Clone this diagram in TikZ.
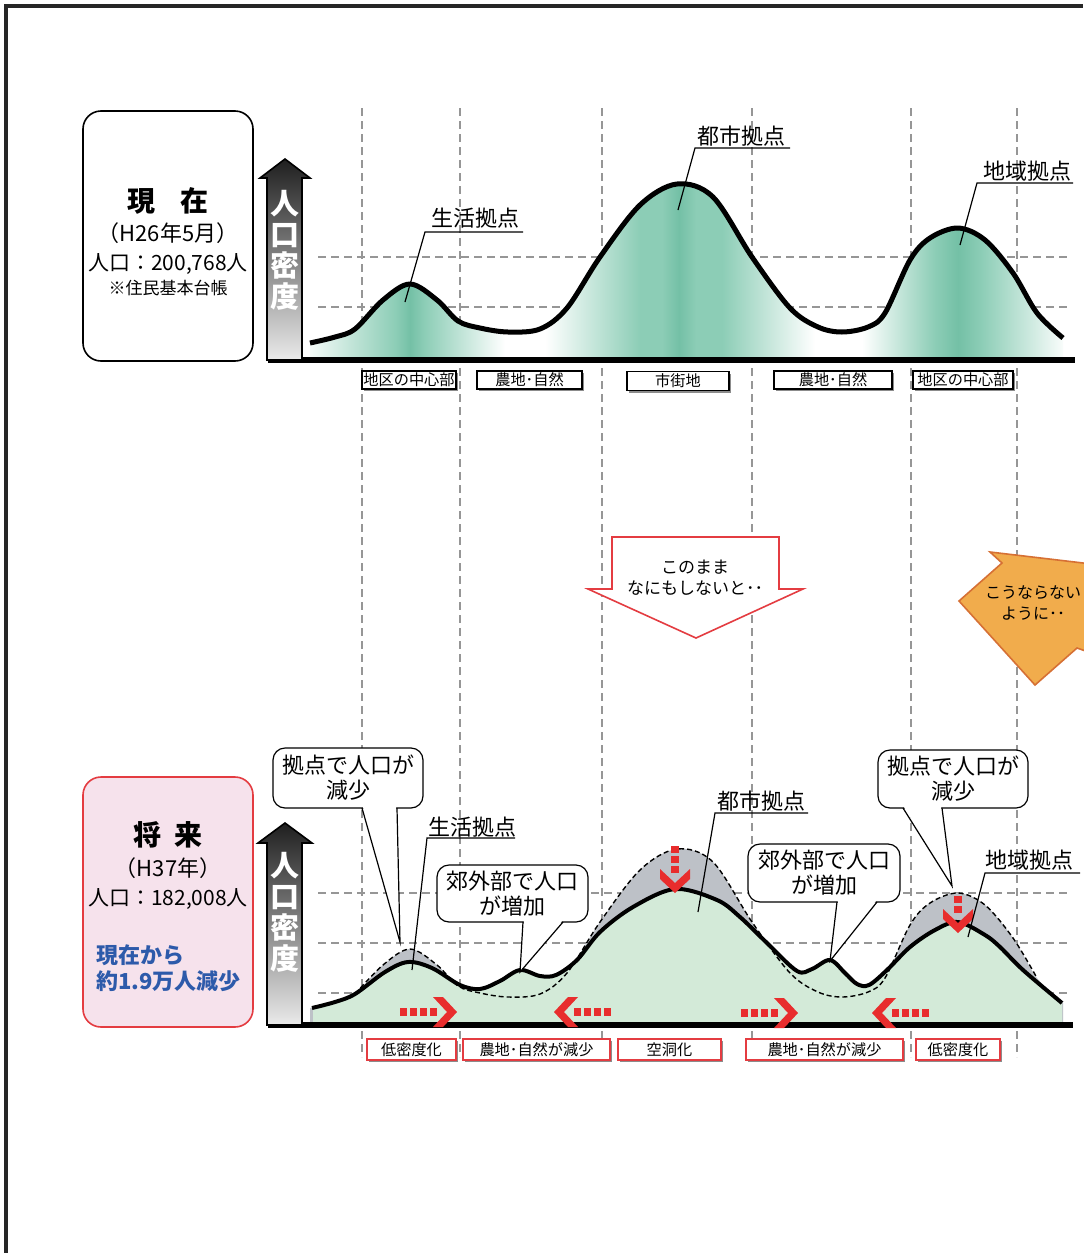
\documentclass[tikz,border=0pt]{standalone}
\usepackage{fontspec}
\setmainfont{Noto Sans CJK JP}
\usetikzlibrary{shadows,calc}
\definecolor{tealA}{RGB}{140,205,182}
\definecolor{tealD}{RGB}{116,192,166}
\definecolor{lgreen}{RGB}{211,234,216}
\definecolor{gfill}{RGB}{189,193,199}
\definecolor{arrred}{RGB}{232,45,45}
\definecolor{boxred}{RGB}{228,60,65}
\definecolor{pinkfill}{RGB}{246,226,236}
\definecolor{blueT}{RGB}{45,90,170}
\definecolor{orangeF}{RGB}{241,172,76}
\definecolor{orangeD}{RGB}{214,112,52}
\definecolor{gridgray}{RGB}{150,150,150}
\tikzset{
  gridline/.style={gridgray, line width=0.7pt, dash pattern=on 4pt off 2.5pt},
  catbox/.style={draw=black, fill=white, line width=0.6pt, inner sep=0pt, font=\fontsize{7.6}{8}\selectfont,
     drop shadow={shadow xshift=1pt, shadow yshift=-1pt, fill=black!45, opacity=1}},
  redbox/.style={catbox, draw=boxred, line width=0.8pt},
  callout/.style={draw=black, fill=white, line width=0.6pt, rounded corners=6pt, align=center,
     font=\fontsize{11}{12.5}\selectfont, inner sep=0pt},
  lbl/.style={font=\fontsize{11}{12}\selectfont, inner sep=0pt},
  leader/.style={line width=0.6pt},
  axisarrow/.style={top color=black!88, bottom color=white!92!black, draw=black, line width=0.8pt},
  axistext/.style={white, font=\bfseries\fontsize{14.5}{15.5}\selectfont, align=center, inner sep=0pt},
  mainbox/.style={draw=black, line width=0.8pt, rounded corners=9pt, minimum width=85pt, minimum height=125pt},
  pics/darr/.style={code={
    \fill[arrred] (-23,-15) -- (-13,-15) -- (1,0) -- (-13,15) -- (-23,15) -- (-9,0) -- cycle;
    \foreach \i in {1,...,#1} {\fill[arrred] ({-19-10*(\i-1)-7},-4) rectangle ({-19-10*(\i-1)},4);}
  }}
}
\begin{document}
\begin{tikzpicture}[x=0.5pt,y=-0.5pt]
\useasboundingbox (0,0) rectangle (1083,1253);
\fill[white] (0,0) rectangle (1083,1253);
% frame
\draw[black!85, line width=2pt] (6,1253) -- (6,6) -- (1083,6);

% vertical grid lines
\foreach \x in {362,460,602,752,911,1017} \draw[gridline] (\x,108) -- (\x,1057);
% horizontal grid lines
\foreach \y in {257,307,893,943,993} \draw[gridline] (318,\y) -- (1070,\y);

% ===== top chart fill =====
\begin{scope}
\clip plot[smooth,tension=0.55] coordinates {(310,343) (335,337) (355,329) (383,300) (410,284) (437,300) (458,321) (480,328) (508,332) (540,329) (567,308) (600,257) (640,205) (677,184) (713,197) (752,257) (790,308) (818,327) (842,332) (868,327) (885,313) (910,260) (930,238) (958,228) (985,240) (1013,273) (1037,313) (1063,338)} -- (1063,360) -- (310,360) -- cycle;
\fill[white] (300,150) rectangle (1075,362);
\shade[left color=white, right color=tealA] (300,150) rectangle (396,362);
\shade[left color=tealA, right color=tealD] (396,150) rectangle (410,362);
\shade[left color=tealD, right color=tealA] (410,150) rectangle (424,362);
\shade[left color=tealA, right color=white] (424,150) rectangle (505,362);
\shade[left color=white, right color=tealA] (545,150) rectangle (640,362);
\fill[tealA] (640,150) rectangle (662,362);
\shade[left color=tealA, right color=tealD] (662,150) rectangle (679,362);
\shade[left color=tealD, right color=tealA] (679,150) rectangle (696,362);
\fill[tealA] (696,150) rectangle (722,362);
\shade[left color=tealA, right color=white] (722,150) rectangle (815,362);
\shade[left color=white, right color=tealA] (862,150) rectangle (935,362);
\shade[left color=tealA, right color=tealD] (935,150) rectangle (958,362);
\shade[left color=tealD, right color=tealA] (958,150) rectangle (981,362);
\shade[left color=tealA, right color=white] (981,150) rectangle (1068,362);
\end{scope}
\draw[line width=2.5pt, line join=round] plot[smooth,tension=0.55] coordinates {(310,343) (335,337) (355,329) (383,300) (410,284) (437,300) (458,321) (480,328) (508,332) (540,329) (567,308) (600,257) (640,205) (677,184) (713,197) (752,257) (790,308) (818,327) (842,332) (868,327) (885,313) (910,260) (930,238) (958,228) (985,240) (1013,273) (1037,313) (1063,338)};
\coordinate (tb0) at (268,360); \coordinate (tb1) at (1075,360);
\draw[line width=2.6pt] (tb0) -- (tb1);

% top axis arrow
\draw[axisarrow] (267,360) -- (267,178) -- (260,178) -- (285,159) -- (310,178) -- (302,178) -- (302,360) -- cycle;
\node[axistext] (taxis) at (285,250) {人\\口\\密\\度};

% top-left box
\node[mainbox] (nowbox) at (168,236) {};
\node[font=\bfseries\fontsize{14}{16}\selectfont, inner sep=0pt] (nowT) at (168,201) {現\hspace{0.9em}在};
\node[font=\fontsize{11}{12}\selectfont, inner sep=0pt] (nowD) at (168,233) {（H26年5月）};
\node[font=\fontsize{10.5}{12}\selectfont, inner sep=0pt] (nowP) at (168,264) {人口：200,768人};
\node[font=\fontsize{8.5}{10}\selectfont, inner sep=0pt] (nowS) at (168,288) {※住民基本台帳};

% top labels
\node[lbl] (L1) at (475,218) {生活拠点};
\coordinate (L1a) at (425,232); \coordinate (L1b) at (523,232); \coordinate (L1t) at (405,302);
\draw[leader] (L1b) -- (L1a) -- (L1t);
\node[lbl] (L2) at (741,136) {都市拠点};
\coordinate (L2a) at (695,148); \coordinate (L2b) at (790,148); \coordinate (L2t) at (678,210);
\draw[leader] (L2b) -- (L2a) -- (L2t);
\node[lbl] (L3) at (1027,171) {地域拠点};
\coordinate (L3a) at (977,183); \coordinate (L3b) at (1073,183); \coordinate (L3t) at (960,245);
\draw[leader] (L3b) -- (L3a) -- (L3t);

% top category boxes
\node[catbox, minimum width=47pt, minimum height=9pt] (tc1) at (409,380) {地区の中心部};
\node[catbox, minimum width=52.5pt, minimum height=9pt] (tc2) at (529.5,380) {農地･自然};
\node[catbox, minimum width=51pt, minimum height=9.5pt] (tc3) at (678,381) {市街地};
\node[catbox, minimum width=59pt, minimum height=9pt] (tc4) at (833,380) {農地･自然};
\node[catbox, minimum width=50pt, minimum height=9pt] (tc5) at (963,380) {地区の中心部};

% middle red arrow
\draw[boxred, fill=white, line width=0.8pt] (612,537) -- (779,537) -- (779,589) -- (803,589) -- (696,638) -- (588,589) -- (612,589) -- cycle;
\node[font=\fontsize{8.5}{10.5}\selectfont, align=center, inner sep=0pt] (midT) at (695,578) {このまま\\なにもしないと･･};

% orange arrow
\draw[orangeD, fill=orangeF, line width=0.8pt, line join=miter] (990,552) -- (1100,565) -- (1100,656) -- (1077,648) -- (1035,685) -- (959,601) -- (1002,563) -- cycle;
\node[font=\fontsize{8}{10.5}\selectfont, align=center, inner sep=0pt] (orT) at (1033,603) {こうならない\\ように･･};

% ===== bottom chart =====
\begin{scope}[shift={(0,665)}]
\fill[gfill] plot[smooth,tension=0.55] coordinates {(310,343) (335,337) (355,329) (383,300) (410,284) (437,300) (458,321) (480,328) (508,332) (540,329) (567,308) (600,257) (640,205) (677,184) (713,197) (752,257) (790,308) (818,327) (842,332) (868,327) (885,313) (910,260) (930,238) (958,228) (985,240) (1013,273) (1037,313) (1063,338)} -- (1063,360) -- (310,360) -- cycle;
\end{scope}
\fill[lgreen] plot[smooth,tension=0.55] coordinates {(313,1008) (335,1002) (355,994) (385,972) (408,962) (432,968) (460,985) (480,989) (500,981) (520,970) (540,976) (556,975) (577,960) (600,932) (633,907) (675,889) (717,900) (740,917) (767,943) (797,971) (812,969) (830,960) (845,973) (857,984) (869,985) (887,970) (910,947) (935,930) (958,922) (985,935) (1000,947) (1023,970) (1062,1003)} -- (1062,1025) -- (313,1025) -- cycle;
\draw[line width=2pt, line join=round] plot[smooth,tension=0.55] coordinates {(312,1008) (335,1002) (355,994) (385,972) (408,962) (432,968) (460,985) (480,989) (500,981) (520,970) (540,976) (556,975) (577,960) (600,932) (633,907) (675,889) (717,900) (740,917) (767,943) (797,971) (812,969) (830,960) (845,973) (857,984) (869,985) (887,970) (910,947) (935,930) (958,922) (985,935) (1000,947) (1023,970) (1062,1003)};
\begin{scope}[shift={(0,665)}]
\draw[line width=0.7pt, dash pattern=on 2.5pt off 1.5pt] plot[smooth,tension=0.55] coordinates {(355,329) (383,300) (410,284) (437,300) (458,321) (480,328) (508,332) (540,329) (567,308) (600,257) (640,205) (677,184) (713,197) (752,257) (790,308) (818,327) (842,332) (868,327) (885,313) (910,260) (930,238) (958,228) (985,240) (1013,273) (1037,313)};
\end{scope}
\coordinate (bb0) at (268,1025); \coordinate (bb1) at (1073,1025);
\draw[line width=2.6pt] (bb0) -- (bb1);

% red dashed arrows
\path (456,1012) pic {darr=4};
\path (555,1012) pic[xscale=-1] {darr=4};
\path (797,1013) pic {darr=4};
\path (873,1013) pic[xscale=-1] {darr=4};
\path (675,892) pic[rotate=-90] {darr=3};
\path (958,932) pic[rotate=-90] {darr=2};

% bottom axis arrow
\draw[axisarrow] (267,1025) -- (267,843) -- (258,843) -- (285,823) -- (312,843) -- (302,843) -- (302,1025) -- cycle;
\node[axistext] (baxis) at (285,912) {人\\口\\密\\度};

% bottom-left box
\node[mainbox, draw=boxred, fill=pinkfill] (futbox) at (168,902) {};
\node[font=\bfseries\fontsize{14}{16}\selectfont, inner sep=0pt] (futT) at (168,835) {将\hspace{0.45em}来};
\node[font=\fontsize{11}{12}\selectfont, inner sep=0pt] (futD) at (168,868) {（H37年）};
\node[font=\fontsize{10.5}{12}\selectfont, inner sep=0pt] (futP) at (168,899) {人口：182,008人};
\node[font=\bfseries\fontsize{11}{12}\selectfont, text=blueT, anchor=west, inner sep=0pt] (futR1) at (96,955) {現在から};
\node[font=\bfseries\fontsize{11}{12}\selectfont, text=blueT, anchor=west, inner sep=0pt] (futR2) at (96,981) {約1.9万人減少};

% bottom labels
\node[lbl] (B1) at (472,827) {生活拠点};
\coordinate (B1a) at (427,838); \coordinate (B1b) at (515,838); \coordinate (B1t) at (412,970);
\draw[leader] (B1b) -- (B1a) -- (B1t);
\node[lbl] (B2) at (761,801) {都市拠点};
\coordinate (B2a) at (715,813); \coordinate (B2b) at (808,813); \coordinate (B2t) at (698,912);
\draw[leader] (B2b) -- (B2a) -- (B2t);
\node[lbl] (B3) at (1029,860) {地域拠点};
\coordinate (B3a) at (985,873); \coordinate (B3b) at (1080,873); \coordinate (B3t) at (968,937);
\draw[leader] (B3b) -- (B3a) -- (B3t);

% callouts
\node[callout, minimum width=75pt, minimum height=30pt] (c1) at (348,778) {拠点で人口が\\減少};
\coordinate (c1a) at (362,808); \coordinate (c1b) at (397,808); \coordinate (c1t) at (400,942);
\fill[white] ($(c1a)+(1,-1)$) -- (c1t) -- ($(c1b)+(-1,-1)$) -- cycle;
\draw[leader] (c1a) -- (c1t) -- (c1b);

\node[callout, minimum width=75.5pt, minimum height=28.5pt] (c2) at (512.5,893.5) {郊外部で人口\\が増加};
\coordinate (c2a) at (523,922); \coordinate (c2b) at (563,922); \coordinate (c2t) at (520,972);
\fill[white] ($(c2a)+(1,-1)$) -- (c2t) -- ($(c2b)+(-1,-1)$) -- cycle;
\draw[leader] (c2a) -- (c2t) -- (c2b);

\node[callout, minimum width=76pt, minimum height=29pt] (c3) at (824,873) {郊外部で人口\\が増加};
\coordinate (c3a) at (837,902); \coordinate (c3b) at (877,902); \coordinate (c3t) at (830,961);
\fill[white] ($(c3a)+(1,-1)$) -- (c3t) -- ($(c3b)+(-1,-1)$) -- cycle;
\draw[leader] (c3a) -- (c3t) -- (c3b);

\node[callout, minimum width=75pt, minimum height=29pt] (c4) at (953,779) {拠点で人口が\\減少};
\coordinate (c4a) at (903,808); \coordinate (c4b) at (942,808); \coordinate (c4t) at (952,886);
\fill[white] ($(c4a)+(1,-1)$) -- (c4t) -- ($(c4b)+(-1,-1)$) -- cycle;
\draw[leader] (c4a) -- (c4t) -- (c4b);

% bottom category boxes
\node[redbox, minimum width=44.5pt, minimum height=10.5pt] (bc1) at (411.5,1049.5) {低密度化};
\node[redbox, minimum width=73.5pt, minimum height=10.5pt] (bc2) at (536.5,1049.5) {農地･自然が減少};
\node[redbox, minimum width=51.5pt, minimum height=10.5pt] (bc3) at (669.5,1049.5) {空洞化};
\node[redbox, minimum width=78.5pt, minimum height=10.5pt] (bc4) at (824.5,1049.5) {農地･自然が減少};
\node[redbox, minimum width=42pt, minimum height=10.5pt] (bc5) at (958,1049.5) {低密度化};
\end{tikzpicture}
\end{document}
